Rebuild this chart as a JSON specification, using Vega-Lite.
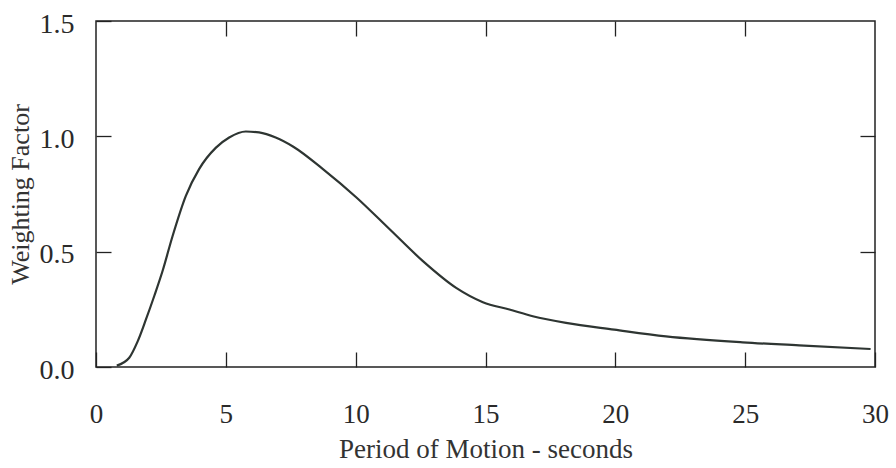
{
  "$schema": "https://vega.github.io/schema/vega-lite/v6.json",
  "autosize": {"type": "none"},
  "padding": {"left": 96, "top": 21, "right": 21, "bottom": 101},
  "width": 779,
  "height": 346,
  "background": "white",
  "config": {
    "view": {"stroke": "#222", "strokeWidth": 1.5},
    "axis": {
      "labelFont": "Liberation Serif",
      "titleFont": "Liberation Serif",
      "labelColor": "#2a2a2a",
      "titleColor": "#333",
      "titleFontWeight": "normal",
      "tickColor": "#222",
      "tickWidth": 1.3,
      "domain": false,
      "grid": false,
      "labelFlush": false
    }
  },
  "data": {
    "values": [
      {"period": 0.8, "weight": 0.006},
      {"period": 1.28, "weight": 0.04},
      {"period": 1.6, "weight": 0.11},
      {"period": 1.92, "weight": 0.205},
      {"period": 2.25, "weight": 0.31},
      {"period": 2.56, "weight": 0.415},
      {"period": 2.95, "weight": 0.568},
      {"period": 3.46, "weight": 0.742},
      {"period": 3.97, "weight": 0.858},
      {"period": 4.62, "weight": 0.951},
      {"period": 5.13, "weight": 0.995},
      {"period": 5.77, "weight": 1.021},
      {"period": 6.28, "weight": 1.017},
      {"period": 6.92, "weight": 0.995},
      {"period": 7.6, "weight": 0.955},
      {"period": 8.74, "weight": 0.858},
      {"period": 10.03, "weight": 0.735},
      {"period": 11.31, "weight": 0.597},
      {"period": 12.59, "weight": 0.459},
      {"period": 13.87, "weight": 0.343},
      {"period": 14.9, "weight": 0.281},
      {"period": 15.92, "weight": 0.249},
      {"period": 16.82, "weight": 0.22},
      {"period": 18.1, "weight": 0.191},
      {"period": 19.96, "weight": 0.162},
      {"period": 21.95, "weight": 0.133},
      {"period": 24.9, "weight": 0.107},
      {"period": 27.08, "weight": 0.094},
      {"period": 29.83, "weight": 0.078}
    ]
  },
  "layer": [
    {
      "mark": {"type": "line", "color": "#2e3532", "strokeWidth": 2.2, "interpolate": "monotone"},
      "encoding": {
        "x": {
          "field": "period", "type": "quantitative",
          "scale": {"domain": [0, 30], "nice": false, "zero": false},
          "axis": {
            "orient": "bottom", "values": [0, 5, 10, 15, 20, 25, 30],
            "tickSize": -15, "labelPadding": 49, "labelFontSize": 27,
            "title": "Period of Motion - seconds", "titleFontSize": 27,
            "titlePadding": 9
          }
        },
        "y": {
          "field": "weight", "type": "quantitative",
          "scale": {"domain": [0, 1.5], "nice": false},
          "axis": {
            "orient": "left", "values": [0, 0.5, 1, 1.5], "format": ".1f",
            "tickSize": -15, "labelPadding": 37, "labelFontSize": 28, "labelOffset": 3,
            "title": "Weighting Factor", "titleFontSize": 26, "titlePadding": 6
          }
        }
      }
    },
    {
      "mark": {"type": "line", "opacity": 0},
      "encoding": {
        "x": {
          "field": "period", "type": "quantitative",
          "axis": {"orient": "top", "values": [5, 10, 15, 20, 25], "tickSize": -15, "labels": false, "title": null}
        },
        "y": {
          "field": "weight", "type": "quantitative",
          "axis": {"orient": "right", "values": [0.5, 1], "tickSize": -15, "labels": false, "title": null}
        }
      }
    }
  ],
  "resolve": {"axis": {"x": "independent", "y": "independent"}}
}
